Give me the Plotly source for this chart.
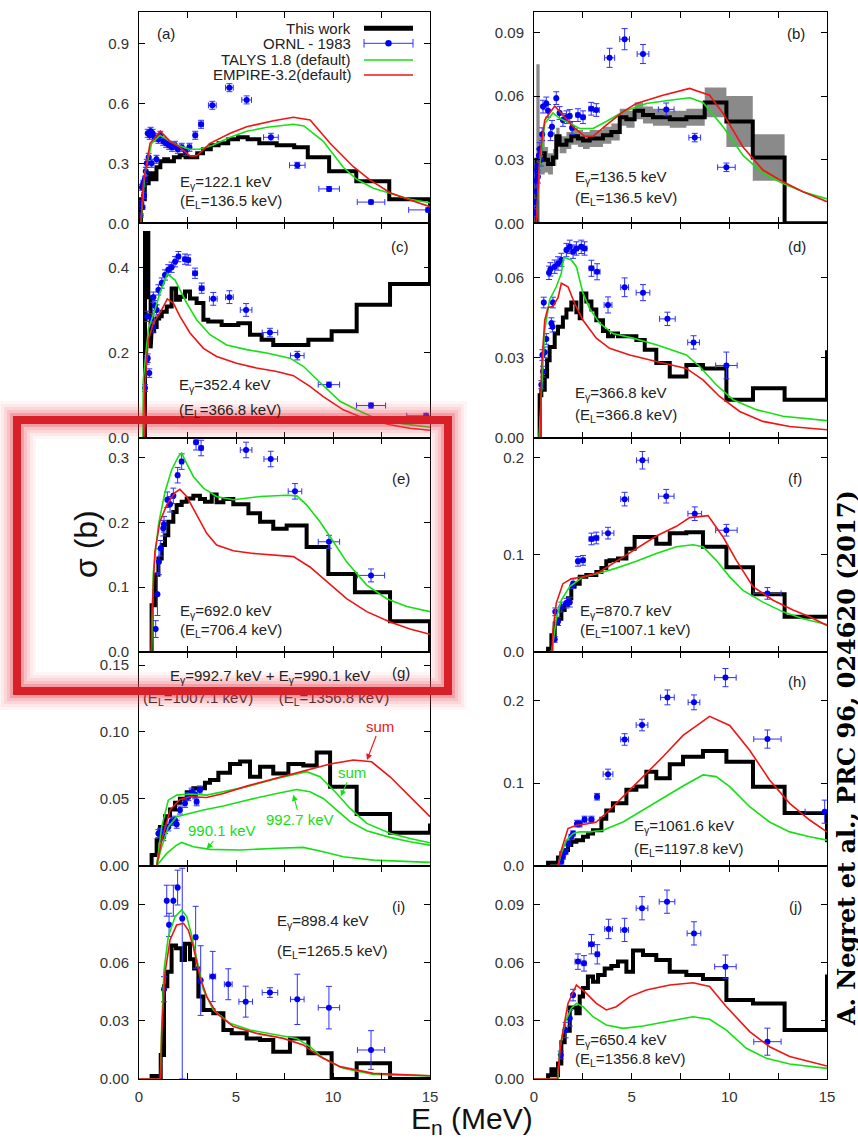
import plotly.graph_objects as go

W, H = 858, 1140

# ------------------------------------------------------------------ DATA
X_TICKS = [0, 5, 10, 15]
X_LABELS = ["0", "5", "10", "15"]
X_MINOR = [2.5, 7.5, 12.5]

Y_RANGES = [1.0565, 0.0996, 0.503, 0.0802, 0.3305, 0.2199, 0.160, 0.2594, 0.1103, 0.1103]
Y_TICKS = [
    [0, 0.3, 0.6, 0.9], [0, 0.03, 0.06, 0.09], [0, 0.2, 0.4], [0, 0.03, 0.06],
    [0, 0.1, 0.2, 0.3], [0, 0.1, 0.2], [0, 0.05, 0.10, 0.15], [0, 0.1, 0.2],
    [0, 0.03, 0.06, 0.09], [0, 0.03, 0.06, 0.09],
]
Y_LABELS = [
    ["0.0", "0.3", "0.6", "0.9"], ["0.00", "0.03", "0.06", "0.09"], ["0.0", "0.2", "0.4"],
    ["0.00", "0.03", "0.06"], ["0.0", "0.1", "0.2", "0.3"], ["0.0", "0.1", "0.2"],
    ["0.00", "0.05", "0.10", "0.15"], ["0.0", "0.1", "0.2"],
    ["0.00", "0.03", "0.06", "0.09"], ["0.00", "0.03", "0.06", "0.09"],
]

# ---- panel (a)
a_edges = [0.1,0.3,0.5,0.7,0.9,1.1,1.3,1.5,1.8,2.1,2.4,2.7,3.0,3.3,3.7,4.1,4.6,5.1,5.6,6.2,7.1,8.0,8.7,9.8,11.2,12.9,15.0,15.5]
a_hist = [0.12,0.20,0.25,0.22,0.28,0.31,0.32,0.31,0.33,0.34,0.33,0.33,0.35,0.37,0.39,0.40,0.42,0.43,0.42,0.40,0.39,0.38,0.33,0.26,0.21,0.12,0.0]
a_green_x = [0.1,0.3,0.65,1.08,1.6,2.0,2.6,3.1,3.8,4.7,5.55,6.6,7.96,8.5,9.5,10.53,11.22,12.08,12.94,13.97,15.0]
a_green_y = [0.0,0.25,0.40,0.44,0.41,0.39,0.37,0.37,0.39,0.43,0.46,0.48,0.495,0.487,0.41,0.28,0.22,0.175,0.15,0.12,0.103]
a_red_x = [0.1,0.22,0.57,1.1,1.6,2.11,2.63,2.97,3.66,4.7,5.55,6.93,7.96,8.82,9.85,11.05,11.9,12.94,13.97,15.0]
a_red_y = [0.0,0.2,0.40,0.46,0.41,0.38,0.337,0.337,0.40,0.45,0.483,0.513,0.53,0.517,0.40,0.283,0.217,0.153,0.117,0.083]
a_ornl_x = [0.08,0.12,0.15,0.18,0.22,0.26,0.30,0.35,0.40,0.45,0.50,0.55,0.60,0.65,0.70,0.80,0.90,1.00,1.10,1.25,1.40,1.55,1.70,1.85,2.00,2.20,2.40,2.60,2.90,3.20,3.78,4.66,5.55,6.80,8.16,9.80,11.96,14.90]
a_ornl_y = [0.04,0.10,0.18,0.08,0.20,0.14,0.22,0.26,0.30,0.45,0.33,0.44,0.46,0.30,0.45,0.43,0.32,0.42,0.44,0.41,0.40,0.39,0.38,0.39,0.37,0.38,0.36,0.38,0.44,0.495,0.59,0.678,0.617,0.43,0.29,0.172,0.106,0.067]
a_ornl_dx = [0.02,0.02,0.02,0.02,0.02,0.02,0.03,0.03,0.03,0.03,0.04,0.04,0.04,0.04,0.05,0.05,0.05,0.06,0.06,0.06,0.07,0.07,0.08,0.08,0.09,0.1,0.1,0.1,0.1,0.12,0.2,0.2,0.25,0.38,0.4,0.53,0.71,1.0]
a_ornl_dy = [0.01,0.015,0.015,0.01,0.015,0.015,0.015,0.02,0.02,0.02,0.02,0.02,0.02,0.02,0.02,0.02,0.02,0.02,0.02,0.02,0.02,0.02,0.02,0.02,0.02,0.02,0.02,0.02,0.02,0.02,0.02,0.02,0.02,0.02,0.015,0.012,0.01,0.01]

# ---- panel (b)
b_edges = [0.12,0.29,0.55,0.72,0.97,1.14,1.31,1.66,1.91,2.25,2.51,2.85,3.53,3.96,4.39,4.73,5.15,5.58,6.09,6.95,7.8,8.74,9.85,11.2,12.83,15.0]
b_hist = [0.030,0.033,0.030,0.028,0.031,0.041,0.037,0.039,0.041,0.040,0.039,0.040,0.0415,0.043,0.050,0.049,0.053,0.051,0.050,0.049,0.050,0.057,0.048,0.031,0.0]
b_err = [0.045,0.010,0.006,0.005,0.004,0.004,0.004,0.004,0.004,0.004,0.004,0.004,0.004,0.004,0.004,0.004,0.004,0.004,0.004,0.004,0.004,0.007,0.012,0.011,0.0]
b_green_x = [0.12,0.29,0.55,0.97,1.31,1.83,2.34,3.02,3.7,4.56,5.75,6.95,7.97,8.65,9.68,10.7,11.72,12.75,13.77,15.0]
b_green_y = [0.0,0.027,0.047,0.052,0.0495,0.047,0.0447,0.0447,0.048,0.0526,0.0565,0.058,0.0592,0.057,0.0455,0.032,0.0236,0.0188,0.0149,0.0115]
b_red_x = [0.12,0.29,0.55,1.06,1.48,2.0,2.59,3.02,3.7,4.56,5.24,6.6,7.97,8.99,9.68,10.7,11.72,12.75,13.77,15.0]
b_red_y = [0.0,0.031,0.0487,0.0553,0.051,0.0455,0.041,0.041,0.0463,0.0526,0.0565,0.0604,0.0636,0.0604,0.0518,0.036,0.0251,0.0196,0.0149,0.0102]
b_ornl_x = [0.05,0.08,0.10,0.12,0.15,0.18,0.20,0.25,0.29,0.35,0.42,0.46,0.63,0.72,0.85,0.92,1.14,1.31,1.48,1.66,1.83,1.95,2.25,2.51,2.93,3.19,3.87,4.64,5.58,6.77,8.23,9.85]
b_ornl_y = [0.005,0.010,0.015,0.020,0.025,0.027,0.022,0.032,0.035,0.030,0.042,0.055,0.0565,0.053,0.042,0.0455,0.059,0.052,0.0487,0.050,0.0506,0.045,0.051,0.050,0.054,0.0534,0.078,0.0868,0.0798,0.0537,0.0404,0.0264]
b_ornl_dx = [0.02,0.02,0.02,0.02,0.02,0.02,0.02,0.03,0.03,0.03,0.03,0.03,0.04,0.04,0.05,0.05,0.05,0.06,0.06,0.07,0.07,0.08,0.1,0.1,0.12,0.15,0.26,0.25,0.3,0.4,0.3,0.45]
b_ornl_dy = [0.002,0.002,0.003,0.003,0.003,0.003,0.003,0.003,0.003,0.003,0.003,0.003,0.003,0.003,0.003,0.003,0.003,0.003,0.003,0.003,0.003,0.003,0.003,0.003,0.003,0.003,0.0045,0.005,0.0045,0.003,0.002,0.002]

# ---- panel (c)
c_edges = [0.31,0.48,0.60,0.65,0.78,0.91,1.04,1.17,1.43,1.68,1.91,2.11,2.37,2.63,2.97,3.32,3.57,4.26,5.12,5.72,6.32,6.92,8.73,9.93,11.22,12.94,15.0,15.5]
c_hist = [0.48,0.33,0.21,0.25,0.26,0.28,0.285,0.296,0.308,0.35,0.324,0.331,0.343,0.327,0.316,0.277,0.273,0.265,0.269,0.242,0.23,0.218,0.23,0.25,0.312,0.361,0.6]
c_green_x = [0.0,0.2,0.22,0.48,0.82,1.08,1.46,1.86,2.46,2.97,3.66,4.52,5.55,6.58,7.78,8.47,9.33,10.36,11.22,12.25,13.63,15.0]
c_green_y = [0.0,0.0,0.136,0.255,0.30,0.34,0.384,0.37,0.316,0.277,0.242,0.218,0.207,0.199,0.187,0.168,0.13,0.086,0.066,0.045,0.033,0.025]
c_red_x = [0.0,0.27,0.3,0.48,0.74,0.99,1.17,1.46,1.77,2.11,2.63,3.32,4.0,5.03,6.06,7.1,7.96,8.81,9.5,10.53,11.56,12.94,13.97,15.0]
c_red_y = [0.0,0.0,0.12,0.23,0.269,0.288,0.30,0.326,0.316,0.285,0.246,0.21,0.191,0.175,0.164,0.156,0.146,0.121,0.097,0.066,0.047,0.031,0.023,0.018]
c_ornl_x = [0.31,0.40,0.53,0.45,0.43,0.65,0.74,0.74,0.82,0.91,1.00,1.17,1.34,1.51,1.68,1.86,2.03,2.37,2.54,2.89,3.23,3.83,4.66,5.52,6.75,8.16,9.79,11.96,14.8]
c_ornl_y = [0.117,0.183,0.152,0.187,0.285,0.28,0.33,0.26,0.31,0.30,0.347,0.363,0.382,0.394,0.40,0.413,0.425,0.419,0.417,0.386,0.351,0.326,0.33,0.30,0.247,0.193,0.125,0.076,0.052]
c_ornl_dx = [0.02,0.02,0.02,0.02,0.02,0.03,0.03,0.03,0.03,0.04,0.04,0.05,0.05,0.06,0.06,0.07,0.08,0.1,0.1,0.12,0.12,0.2,0.2,0.3,0.4,0.35,0.55,0.75,1.0]
c_ornl_dy = [0.008,0.01,0.01,0.01,0.012,0.012,0.012,0.012,0.012,0.012,0.012,0.012,0.012,0.012,0.012,0.012,0.012,0.012,0.012,0.012,0.012,0.015,0.015,0.015,0.01,0.01,0.006,0.006,0.006]

# ---- panel (d)
d_edges = [0.29,0.375,0.55,0.67,0.80,1.06,1.23,1.48,1.66,1.91,2.17,2.34,2.42,2.68,2.94,3.19,3.53,3.79,4.04,4.30,5.24,5.67,6.26,6.95,7.80,8.65,9.85,11.21,12.83,15.0,15.5]
d_hist = [0.016,0.018,0.023,0.029,0.034,0.039,0.0416,0.045,0.048,0.0506,0.047,0.0447,0.054,0.051,0.048,0.044,0.040,0.038,0.039,0.038,0.0366,0.033,0.028,0.023,0.0273,0.026,0.0143,0.0186,0.0143,0.032]
d_green_x = [0.0,0.26,0.38,0.55,0.80,1.14,1.40,1.52,1.91,2.17,2.51,2.85,3.36,4.04,5.07,6.26,7.80,8.48,9.33,10.19,11.38,12.75,15.0]
d_green_y = [0.0,0.0,0.0168,0.0404,0.0516,0.0565,0.0615,0.0675,0.0665,0.064,0.054,0.0484,0.0429,0.039,0.0373,0.0348,0.031,0.0267,0.0199,0.0143,0.0106,0.0081,0.0065]
d_red_x = [0.0,0.33,0.38,0.55,0.72,0.97,1.23,1.40,1.74,2.08,2.51,3.19,3.87,4.90,6.26,7.80,8.65,9.50,10.53,11.72,13.09,15.0]
d_red_y = [0.0,0.0,0.0255,0.044,0.0488,0.0491,0.0524,0.0578,0.0565,0.0503,0.044,0.0373,0.0335,0.031,0.0286,0.026,0.0217,0.0155,0.0099,0.0062,0.0043,0.0031]
d_ornl_x = [0.375,0.46,0.43,0.55,0.63,0.50,0.97,0.89,0.95,0.77,0.84,1.06,1.23,1.40,1.66,1.83,2.00,2.17,2.42,2.59,2.94,3.23,3.79,4.64,5.58,6.83,8.17,9.85]
d_ornl_y = [0.0199,0.0248,0.031,0.032,0.037,0.0506,0.0506,0.0429,0.0416,0.0617,0.063,0.064,0.0652,0.0665,0.0702,0.0714,0.0696,0.0708,0.0714,0.0708,0.0634,0.0621,0.0497,0.0563,0.0543,0.0445,0.0357,0.0271]
d_ornl_dx = [0.02,0.02,0.02,0.03,0.03,0.03,0.04,0.04,0.04,0.03,0.04,0.05,0.05,0.06,0.07,0.08,0.09,0.1,0.1,0.12,0.12,0.15,0.2,0.2,0.35,0.4,0.3,0.55]
d_ornl_dy = [0.0015,0.002,0.002,0.002,0.002,0.002,0.002,0.002,0.002,0.0025,0.0025,0.0025,0.0025,0.0025,0.0025,0.0025,0.0025,0.0025,0.0025,0.0025,0.003,0.003,0.003,0.0035,0.003,0.0025,0.0025,0.005]

# ---- panel (e)
e_edges = [0.65,0.82,1.0,1.17,1.34,1.51,1.77,1.94,2.2,2.46,2.8,3.14,3.4,3.75,4.0,4.35,4.86,5.64,6.24,6.92,7.61,8.64,9.76,11.13,12.94,15.0,15.5]
e_hist = [0.072,0.119,0.144,0.165,0.18,0.201,0.216,0.227,0.232,0.237,0.241,0.236,0.232,0.243,0.231,0.236,0.228,0.214,0.201,0.19,0.195,0.162,0.12,0.092,0.047,0.0]
e_green_x = [0.0,0.65,0.74,1.0,1.34,1.68,2.03,2.2,2.46,2.8,3.32,4.0,4.86,6.24,7.61,8.13,8.64,9.33,10.02,10.7,11.74,12.77,13.8,15.0]
e_green_y = [0.0,0.0,0.124,0.196,0.247,0.281,0.302,0.307,0.291,0.271,0.253,0.24,0.235,0.24,0.242,0.241,0.227,0.201,0.17,0.139,0.103,0.082,0.07,0.062]
e_red_x = [0.0,0.63,0.65,0.82,1.08,1.43,1.86,2.11,2.46,2.97,3.49,4.0,4.86,5.89,7.1,7.96,8.81,9.67,10.7,11.74,12.94,13.97,15.0]
e_red_y = [0.0,0.0,0.046,0.155,0.201,0.227,0.246,0.251,0.24,0.211,0.183,0.165,0.156,0.152,0.149,0.147,0.131,0.108,0.082,0.062,0.046,0.035,0.027]
e_ornl_x = [0.86,0.95,1.03,1.12,1.25,1.29,1.46,1.60,1.77,1.99,2.20,2.94,3.20,5.52,6.79,8.04,9.79,11.96]
e_ornl_y = [0.035,0.089,0.139,0.160,0.191,0.197,0.235,0.228,0.241,0.273,0.294,0.324,0.315,0.312,0.298,0.248,0.170,0.118]
e_ornl_dx = [0.02,0.02,0.03,0.03,0.03,0.03,0.05,0.05,0.06,0.07,0.08,0.1,0.1,0.3,0.35,0.35,0.55,0.7]
e_ornl_dy = [0.013,0.033,0.02,0.012,0.012,0.012,0.012,0.012,0.012,0.012,0.012,0.012,0.012,0.012,0.012,0.012,0.01,0.01]

# ---- panel (f)
f_edges = [0.72,0.89,1.06,1.23,1.40,1.57,1.74,1.91,2.08,2.34,2.68,3.19,3.45,3.70,3.87,4.30,4.73,5.15,6.26,6.95,7.80,8.65,9.85,11.21,12.83,15.0]
f_hist = [0.003,0.017,0.029,0.034,0.043,0.048,0.055,0.067,0.070,0.077,0.079,0.082,0.086,0.093,0.094,0.096,0.106,0.118,0.111,0.122,0.123,0.108,0.087,0.059,0.036]
f_green_x = [0.0,0.89,0.97,1.14,1.40,1.83,2.51,3.36,4.21,5.24,6.26,7.29,8.14,8.65,9.33,10.02,10.70,11.72,12.75,13.77,15.0]
f_green_y = [0.0,0.0,0.0086,0.034,0.053,0.067,0.077,0.081,0.086,0.093,0.101,0.108,0.110,0.108,0.094,0.077,0.063,0.051,0.041,0.034,0.028]
f_red_x = [0.0,0.92,0.97,1.14,1.48,1.91,2.51,3.36,4.21,5.24,6.26,7.29,7.97,8.91,9.68,10.36,11.21,12.24,13.26,14.11,15.0]
f_red_y = [0.0,0.0,0.022,0.050,0.070,0.075,0.077,0.082,0.093,0.106,0.119,0.129,0.138,0.140,0.118,0.094,0.067,0.053,0.043,0.036,0.027]
f_ornl_x = [1.06,1.09,1.23,1.40,1.66,1.83,2.00,2.25,2.51,2.94,3.19,3.79,4.64,5.55,6.77,8.23,9.85,11.95]
f_ornl_y = [0.0127,0.041,0.031,0.046,0.050,0.051,0.070,0.093,0.094,0.116,0.117,0.122,0.157,0.197,0.160,0.142,0.125,0.060]
f_ornl_dx = [0.03,0.03,0.04,0.05,0.06,0.06,0.07,0.08,0.1,0.12,0.12,0.3,0.2,0.3,0.4,0.35,0.55,0.7]
f_ornl_dy = [0.003,0.004,0.004,0.005,0.005,0.005,0.005,0.005,0.005,0.006,0.006,0.006,0.007,0.009,0.007,0.007,0.006,0.006]

# ---- panel (g)
g_edges = [0.65,0.91,1.08,1.34,1.60,1.86,2.11,2.46,2.80,3.40,3.66,4.09,4.69,5.21,5.72,6.24,6.92,7.70,8.47,9.16,9.85,11.22,12.94,15.0,15.5]
g_hist = [0.008,0.019,0.029,0.037,0.042,0.047,0.050,0.055,0.058,0.062,0.064,0.0695,0.076,0.078,0.0665,0.074,0.069,0.076,0.075,0.0847,0.059,0.0386,0.0247,0.030]
g_talys990_x = [0.0,0.91,1.43,1.94,2.2,2.8,3.66,5.21,7.1,8.47,9.5,10.53,12.08,15.0]
g_talys990_y = [0.0,0.0,0.0092,0.0154,0.0174,0.0142,0.0122,0.0117,0.013,0.0137,0.0105,0.0067,0.0042,0.0025]
g_talys992_x = [0.0,0.91,1.17,1.51,1.94,2.46,3.32,4.35,5.55,7.1,8.13,8.81,9.5,10.19,10.88,11.74,12.94,13.97,15.0]
g_talys992_y = [0.0,0.0,0.0142,0.029,0.0366,0.0386,0.0416,0.0446,0.049,0.054,0.057,0.0553,0.0503,0.0416,0.0329,0.0262,0.0212,0.0179,0.0154]
g_green_x = [0.0,0.91,1.17,1.51,1.94,2.63,3.49,4.35,5.55,7.1,8.64,9.33,10.19,10.88,11.74,12.94,13.97,15.0]
g_green_y = [0.0,0.0,0.029,0.049,0.0528,0.0536,0.0528,0.0553,0.059,0.0653,0.0703,0.0665,0.054,0.0428,0.0316,0.0242,0.0204,0.0172]
g_red_x = [0.0,0.91,1.17,1.6,2.11,2.63,3.49,4.35,5.55,7.1,8.64,9.85,11.05,11.99,12.94,13.97,15.0]
g_red_y = [0.0,0.0,0.019,0.0416,0.0496,0.0516,0.051,0.054,0.0595,0.0653,0.0715,0.076,0.079,0.0777,0.0665,0.0516,0.0366]
g_ornl_x = [1.00,1.08,1.25,1.34,1.51,1.68,1.86,1.94,2.11,2.37,2.54,2.71,2.89,2.97,3.14]
g_ornl_y = [0.024,0.025,0.0217,0.027,0.029,0.033,0.034,0.031,0.0416,0.0466,0.0516,0.055,0.053,0.0478,0.0566]
g_ornl_dx = [0.03,0.03,0.04,0.04,0.05,0.05,0.06,0.06,0.07,0.08,0.08,0.1,0.1,0.1,0.1]
g_ornl_dy = [0.003,0.003,0.003,0.003,0.003,0.003,0.003,0.003,0.003,0.003,0.003,0.003,0.003,0.003,0.003]

# ---- panel (h)
h_edges = [0.72,1.23,1.40,1.57,1.74,1.91,2.17,2.51,2.76,3.02,3.45,3.70,4.04,4.73,5.24,5.75,6.26,6.95,7.63,8.65,9.85,11.21,12.83,15.0,15.5]
h_hist = [0.0036,0.010,0.015,0.019,0.025,0.029,0.031,0.035,0.039,0.043,0.057,0.067,0.0756,0.092,0.096,0.114,0.106,0.123,0.132,0.139,0.126,0.0958,0.064,0.031]
h_green_x = [0.0,1.23,1.40,1.66,2.00,2.34,2.85,3.53,4.56,5.58,6.60,7.63,8.65,9.33,10.02,11.04,12.06,13.09,14.11,15.0]
h_green_y = [0.0,0.0,0.015,0.031,0.039,0.041,0.041,0.043,0.053,0.0675,0.0816,0.0966,0.110,0.108,0.0958,0.0715,0.053,0.041,0.035,0.031]
h_red_x = [0.0,1.23,1.40,1.74,2.17,2.68,3.19,3.87,4.73,5.58,6.60,7.63,8.99,10.02,11.04,12.06,13.09,14.11,15.0]
h_red_y = [0.0,0.0,0.019,0.045,0.049,0.0505,0.053,0.0675,0.0877,0.108,0.132,0.158,0.181,0.170,0.140,0.104,0.0756,0.0554,0.041]
h_ornl_x = [1.40,1.48,1.62,1.74,1.91,2.00,2.20,2.34,2.59,2.94,3.23,3.79,4.64,5.53,6.83,8.19,9.80,11.95,14.88]
h_ornl_y = [0.005,0.011,0.017,0.027,0.035,0.039,0.051,0.051,0.056,0.056,0.0836,0.111,0.153,0.1705,0.204,0.198,0.228,0.1535,0.0655]
h_ornl_dx = [0.03,0.03,0.04,0.05,0.05,0.06,0.07,0.08,0.1,0.12,0.1,0.25,0.2,0.3,0.35,0.3,0.55,0.7,1.0]
h_ornl_dy = [0.003,0.003,0.003,0.003,0.003,0.003,0.004,0.004,0.004,0.004,0.004,0.006,0.007,0.007,0.009,0.009,0.011,0.011,0.014]

# ---- panel (i)
i_edges = [0.65,0.91,1.12,1.29,1.46,1.68,1.91,2.20,2.37,2.63,2.84,3.06,3.32,3.83,4.35,4.78,5.55,6.24,6.92,7.78,8.73,9.93,11.22,12.94,15.0]
i_hist = [0.0016,0.0,0.0124,0.048,0.0555,0.069,0.0676,0.0616,0.070,0.0619,0.0572,0.0426,0.0357,0.034,0.0253,0.0236,0.021,0.0202,0.0141,0.021,0.0133,0.0,0.0081,0.0]
i_green_x = [0.0,1.10,1.17,1.29,1.51,1.86,2.20,2.46,2.71,2.97,3.32,3.83,4.69,5.72,7.10,8.13,8.81,9.50,10.53,12.08,15.0]
i_green_y = [0.0,0.0,0.027,0.0564,0.0736,0.084,0.0874,0.084,0.0745,0.0616,0.046,0.0357,0.0288,0.0253,0.0228,0.021,0.0167,0.0107,0.0055,0.0024,0.0016]
i_red_x = [0.0,1.12,1.17,1.34,1.60,1.94,2.29,2.54,2.80,3.14,3.49,4.00,4.86,6.07,7.44,8.47,9.33,10.36,12.08,15.0]
i_red_y = [0.0,0.0,0.0236,0.0547,0.0719,0.0797,0.0805,0.077,0.0684,0.0529,0.0426,0.034,0.0271,0.0236,0.021,0.0176,0.0116,0.0064,0.0029,0.0017]
i_ornl_x = [1.29,1.43,1.55,1.77,1.99,2.23,2.92,3.18,3.80,4.60,5.50,6.75,8.16,9.79,11.96]
i_ornl_y = [0.0464,0.0922,0.0797,0.0922,0.099,0.083,0.0733,0.0509,0.053,0.049,0.040,0.0447,0.0412,0.0369,0.015]
i_ornl_dx = [0.03,0.03,0.03,0.04,0.05,0.06,0.08,0.08,0.15,0.2,0.35,0.4,0.35,0.55,0.7]
i_ornl_dy = [0.0065,0.008,0.006,0.008,0.009,0.026,0.016,0.018,0.013,0.008,0.008,0.0025,0.013,0.011,0.01]
i_ornl_dym = [0.0065,0.008,0.006,0.008,0.009,0.083,0.016,0.018,0.013,0.008,0.008,0.0025,0.013,0.011,0.01]

# ---- panel (j)
j_edges = [0.72,0.89,1.06,1.23,1.40,1.57,1.83,2.17,2.34,2.51,2.76,3.02,3.28,3.62,3.96,4.30,4.73,5.07,5.58,6.26,6.95,7.80,8.65,9.85,11.21,12.83,15.0,15.5]
j_hist = [0.002,0.005,0.002,0.008,0.019,0.025,0.037,0.034,0.0426,0.047,0.053,0.0503,0.0538,0.0572,0.0584,0.0607,0.0555,0.0664,0.0641,0.0616,0.0555,0.0538,0.0517,0.0409,0.0391,0.0253,0.053]
j_green_x = [0.0,1.23,1.31,1.57,1.91,2.17,2.51,3.02,3.70,4.56,5.58,6.77,8.14,8.99,9.85,10.87,11.89,13.09,15.0]
j_green_y = [0.0,0.0,0.015,0.0288,0.0366,0.0391,0.0374,0.0322,0.0279,0.0262,0.0274,0.0297,0.0322,0.0309,0.0253,0.0159,0.0107,0.0078,0.0055]
j_red_x = [0.0,1.20,1.23,1.40,1.74,2.17,2.59,3.19,3.70,4.21,4.90,5.75,6.95,8.14,8.99,9.85,11.04,12.06,13.09,15.0]
j_red_y = [0.0,0.0,0.005,0.020,0.0391,0.0486,0.0452,0.0391,0.0357,0.0374,0.0426,0.046,0.0486,0.0498,0.0478,0.0374,0.0245,0.0167,0.0116,0.0067]
j_ornl_x = [1.37,1.62,1.83,2.00,2.25,2.56,2.94,3.24,3.82,4.64,5.53,6.81,8.19,9.80,11.95]
j_ornl_y = [0.0124,0.0253,0.0314,0.0434,0.0607,0.0598,0.0697,0.0645,0.0776,0.0771,0.0883,0.0917,0.0753,0.0581,0.0193]
j_ornl_dx = [0.03,0.04,0.05,0.06,0.15,0.1,0.15,0.1,0.2,0.2,0.3,0.4,0.35,0.55,0.7]
j_ornl_dy = [0.002,0.004,0.004,0.003,0.004,0.004,0.005,0.005,0.005,0.006,0.006,0.006,0.006,0.006,0.007]

PANELS = [
    dict(edges=a_edges, hist=a_hist, gx=a_green_x, gy=a_green_y, rx=a_red_x, ry=a_red_y,
         ox=a_ornl_x, oy=a_ornl_y, odx=a_ornl_dx, ody=a_ornl_dy),
    dict(edges=b_edges, hist=b_hist, gx=b_green_x, gy=b_green_y, rx=b_red_x, ry=b_red_y,
         ox=b_ornl_x, oy=b_ornl_y, odx=b_ornl_dx, ody=b_ornl_dy, band=b_err),
    dict(edges=c_edges, hist=c_hist, gx=c_green_x, gy=c_green_y, rx=c_red_x, ry=c_red_y,
         ox=c_ornl_x, oy=c_ornl_y, odx=c_ornl_dx, ody=c_ornl_dy),
    dict(edges=d_edges, hist=d_hist, gx=d_green_x, gy=d_green_y, rx=d_red_x, ry=d_red_y,
         ox=d_ornl_x, oy=d_ornl_y, odx=d_ornl_dx, ody=d_ornl_dy),
    dict(edges=e_edges, hist=e_hist, gx=e_green_x, gy=e_green_y, rx=e_red_x, ry=e_red_y,
         ox=e_ornl_x, oy=e_ornl_y, odx=e_ornl_dx, ody=e_ornl_dy),
    dict(edges=f_edges, hist=f_hist, gx=f_green_x, gy=f_green_y, rx=f_red_x, ry=f_red_y,
         ox=f_ornl_x, oy=f_ornl_y, odx=f_ornl_dx, ody=f_ornl_dy),
    dict(edges=g_edges, hist=g_hist, gx=g_green_x, gy=g_green_y, rx=g_red_x, ry=g_red_y,
         ox=g_ornl_x, oy=g_ornl_y, odx=g_ornl_dx, ody=g_ornl_dy,
         extra_green=[(g_talys990_x, g_talys990_y), (g_talys992_x, g_talys992_y)]),
    dict(edges=h_edges, hist=h_hist, gx=h_green_x, gy=h_green_y, rx=h_red_x, ry=h_red_y,
         ox=h_ornl_x, oy=h_ornl_y, odx=h_ornl_dx, ody=h_ornl_dy),
    dict(edges=i_edges, hist=i_hist, gx=i_green_x, gy=i_green_y, rx=i_red_x, ry=i_red_y,
         ox=i_ornl_x, oy=i_ornl_y, odx=i_ornl_dx, ody=i_ornl_dy, odym=i_ornl_dym),
    dict(edges=j_edges, hist=j_hist, gx=j_green_x, gy=j_green_y, rx=j_red_x, ry=j_red_y,
         ox=j_ornl_x, oy=j_ornl_y, odx=j_ornl_dx, ody=j_ornl_dy),
]

for n, P in enumerate(PANELS):
    assert len(P["edges"]) == len(P["hist"]) + 1, ("edges", n)
    assert len(P["gx"]) == len(P["gy"]), ("green", n)
    assert len(P["rx"]) == len(P["ry"]), ("red", n)
    assert len(P["ox"]) == len(P["oy"]) == len(P["odx"]) == len(P["ody"]), ("ornl", n)
    if "band" in P:
        assert len(P["band"]) == len(P["hist"]), ("band", n)
    for ex, ey in P.get("extra_green", []):
        assert len(ex) == len(ey), ("extra", n)

# ------------------------------------------------------------------ STYLE / LAYOUT
ROWS = [(12, 223.3), (223.3, 438), (438, 651.7), (651.7, 865.7), (865.7, 1079)]
COLS = [(139, 430), (534, 827)]
FONT = "Liberation Sans, Arial, Helvetica, sans-serif"
BLACK = "#000000"
GREEN = "#14e014"
RED = "#f01414"
BLUE = "#0000f5"
EBLUE = "#3030ff"
TXT = "#222222"


def px(x):
    return x / W


def py(y):
    return 1 - y / H


def step_xy(edges, vals):
    xs, ys = [edges[0]], [0.0]
    for k, v in enumerate(vals):
        xs += [edges[k], edges[k + 1]]
        ys += [v, v]
    return xs, ys


fig = go.Figure()
layout = dict(
    width=W, height=H, margin=dict(l=0, r=0, t=0, b=0),
    paper_bgcolor="white", plot_bgcolor="white", showlegend=False,
    template="none", font=dict(family=FONT, color=TXT, size=15),
)

for k, P in enumerate(PANELS):
    row, col = divmod(k, 2)
    sfx = "" if k == 0 else str(k + 1)
    xr, yr = "x" + sfx, "y" + sfx
    common = dict(showline=True, linecolor="black", linewidth=1, mirror="ticks",
                  ticks="inside", ticklen=6, tickwidth=1, tickcolor="black",
                  showgrid=False, zeroline=False, automargin=False,
                  tickfont=dict(family=FONT, size=15, color="#333333"))
    layout["xaxis" + sfx] = dict(
        common, domain=[px(COLS[col][0]), px(COLS[col][1])], anchor=yr, range=[0, 15],
        tickmode="array", tickvals=X_TICKS, ticktext=X_LABELS,
        showticklabels=(row == 4), ticklabelstandoff=4,
        minor=dict(tickmode="array", tickvals=X_MINOR, ticks="inside", ticklen=6,
                   tickwidth=1, tickcolor="black", showgrid=False),
    )
    layout["yaxis" + sfx] = dict(
        common, domain=[py(ROWS[row][1]), py(ROWS[row][0])], anchor=xr,
        range=[0, Y_RANGES[k]], tickmode="array", tickvals=Y_TICKS[k], ticktext=Y_LABELS[k],
        ticklabelstandoff=6,
    )

    if "band" in P:
        up = [h + e for h, e in zip(P["hist"], P["band"])]
        lo = [max(h - e, 0.0) for h, e in zip(P["hist"], P["band"])]
        ux, uy = step_xy(P["edges"], up)
        lx, ly = step_xy(P["edges"], lo)
        fig.add_trace(go.Scatter(x=ux[1:], y=uy[1:], mode="lines", line=dict(width=0, color="#8c8c8c"),
                                 xaxis=xr, yaxis=yr, hoverinfo="skip"))
        fig.add_trace(go.Scatter(x=lx[1:], y=ly[1:], mode="lines", line=dict(width=0, color="#8c8c8c"),
                                 fill="tonexty", fillcolor="rgba(125,125,125,0.9)",
                                 xaxis=xr, yaxis=yr, hoverinfo="skip"))

    hx, hy = step_xy(P["edges"], P["hist"])
    fig.add_trace(go.Scatter(x=hx, y=hy, mode="lines", line=dict(color=BLACK, width=4),
                             xaxis=xr, yaxis=yr, name="This work"))

    ey = dict(type="data", array=P["ody"], color=EBLUE, thickness=1, width=3)
    if "odym" in P:
        ey["symmetric"] = False
        ey["arrayminus"] = P["odym"]
    fig.add_trace(go.Scatter(
        x=P["ox"], y=P["oy"], mode="markers",
        marker=dict(color=BLUE, size=6, line=dict(width=0)),
        error_x=dict(type="data", array=P["odx"], color=EBLUE, thickness=1, width=3),
        error_y=ey, xaxis=xr, yaxis=yr, name="ORNL - 1983"))

    for ex, eyv in P.get("extra_green", []):
        fig.add_trace(go.Scatter(x=ex, y=eyv, mode="lines", line=dict(color=GREEN, width=1.6),
                                 xaxis=xr, yaxis=yr))
    fig.add_trace(go.Scatter(x=P["gx"], y=P["gy"], mode="lines", line=dict(color=GREEN, width=1.6),
                             xaxis=xr, yaxis=yr, name="TALYS 1.8 (default)"))
    fig.add_trace(go.Scatter(x=P["rx"], y=P["ry"], mode="lines", line=dict(color=RED, width=1.6),
                             xaxis=xr, yaxis=yr, name="EMPIRE-3.2(default)"))

# second label line of panel (g), drawn as a text trace so the red frame covers it
fig.add_trace(go.Scatter(
    x=[0.2, 7.2], y=[0.1246, 0.1246], mode="text",
    text=["(E<sub>L</sub>=1007.1 keV)", "(E<sub>L</sub>=1356.8 keV)"],
    textposition="middle right", textfont=dict(family=FONT, size=15, color=TXT),
    xaxis="x7", yaxis="y7", cliponaxis=False, hoverinfo="skip"))

fig.update_layout(**layout)

# ------------------------------------------------------------------ TEXT
ann = []


def text(x, y, s, xanchor="left", size=15, color=TXT, **kw):
    ann.append(dict(x=px(x), y=py(y), xref="paper", yref="paper", text=s, showarrow=False,
                    xanchor=xanchor, yanchor="middle", font=dict(family=FONT, size=size, color=color), **kw))


PANEL_TAGS = [("(a)", 166.3, 33.5), ("(b)", 795.7, 33.3), ("(c)", 400, 246.7), ("(d)", 796.7, 246.7),
              ("(e)", 401, 478.3), ("(f)", 795, 478.3), ("(g)", 400.8, 672.7), ("(h)", 797, 681.7),
              ("(i)", 398, 906.7), ("(j)", 795, 906.7)]
for s, x, y in PANEL_TAGS:
    text(x, y, s, xanchor="center")

LEVEL_TEXT = [
    ("122.1", "136.5", 178.3, 182.7, 201.7),
    ("136.5", "136.5", 573.3, 177.3, 198.3),
    ("352.4", "366.8", 177.3, 385.0, 410.0),
    ("366.8", "366.8", 573.3, 393.3, 415.0),
    ("692.0", "706.4", 177.7, 611.0, 630.0),
    ("870.7", "1007.1", 578.3, 611.7, 630.0),
    ("1061.6", "1197.8", 631.7, 826.7, 849.0),
    ("898.4", "1265.5", 275.0, 921.7, 951.7),
    ("650.4", "1356.8", 573.3, 1040.0, 1059.3),
]
for eg, el, x, y1, y2 in LEVEL_TEXT:
    text(x, y1, "E<sub>γ</sub>=%s keV" % eg)
    text(x, y2, "(E<sub>L</sub>=%s keV)" % el)

text(269.7, 676, "E<sub>γ</sub>=992.7 keV + E<sub>γ</sub>=990.1 keV", xanchor="center")

LEGEND = [("This work", 28.3), ("ORNL - 1983", 43.3), ("TALYS 1.8 (default)", 60.0), ("EMPIRE-3.2(default)", 75.0)]
for s, y in LEGEND:
    text(353.3, y, s, xanchor="right")

ARROWS = [("sum", RED, 11.75, 0.079, 13, -34), ("sum", GREEN, 10.4, 0.052, 11, -24),
          ("992.7 keV", GREEN, 7.95, 0.053, 7, 25), ("990.1 keV", GREEN, 3.49, 0.0125, 15, -18)]
for s, c, x, y, ax, ay in ARROWS:
    ann.append(dict(x=x, y=y, xref="x7", yref="y7", text=s, showarrow=True, ax=ax, ay=ay,
                    arrowhead=2, arrowsize=1.1, arrowwidth=1.1, arrowcolor=c,
                    font=dict(family=FONT, size=15, color=c)))

ann.append(dict(x=px(472), y=py(1120), xref="paper", yref="paper", showarrow=False,
                text="E<sub>n</sub> (MeV)", xanchor="center", yanchor="middle",
                font=dict(family=FONT, size=30, color="#111111")))
ann.append(dict(x=px(86), y=py(544), xref="paper", yref="paper", showarrow=False,
                text="σ (b)", textangle=-90, xanchor="center", yanchor="middle",
                font=dict(family=FONT, size=32, color="#111111")))
ann.append(dict(x=px(846), y=py(758), xref="paper", yref="paper", showarrow=False,
                text="<b>A. Negret et al., PRC 96, 024620 (2017)</b>", textangle=-90,
                xanchor="center", yanchor="middle",
                font=dict(family="DejaVu Serif, serif", size=24, color="#000000")))

# ------------------------------------------------------------------ SHAPES
shapes = []
shapes.append(dict(type="line", xref="paper", yref="paper", x0=px(364), x1=px(413), y0=py(28.3), y1=py(28.3),
                   line=dict(color=BLACK, width=5)))
shapes.append(dict(type="line", xref="paper", yref="paper", x0=px(364), x1=px(413), y0=py(43.3), y1=py(43.3),
                   line=dict(color=EBLUE, width=1)))
for xc in (364, 413):
    shapes.append(dict(type="line", xref="paper", yref="paper", x0=px(xc), x1=px(xc), y0=py(39), y1=py(47.6),
                       line=dict(color=EBLUE, width=1)))
shapes.append(dict(type="circle", xref="paper", yref="paper", x0=px(385.3), x1=px(391.7), y0=py(46.5), y1=py(40.1),
                   fillcolor=BLUE, line=dict(width=0)))
shapes.append(dict(type="line", xref="paper", yref="paper", x0=px(364), x1=px(413), y0=py(60), y1=py(60),
                   line=dict(color=GREEN, width=1.6)))
shapes.append(dict(type="line", xref="paper", yref="paper", x0=px(364), x1=px(413), y0=py(75), y1=py(75),
                   line=dict(color=RED, width=1.6)))

# red highlight frame with a soft glow
for wdt, col in [(38, "rgba(240,90,100,0.06)"), (32, "rgba(240,90,100,0.08)"), (26, "rgba(240,80,90,0.11)"),
                 (20, "rgba(235,70,80,0.15)"), (14, "rgba(230,60,70,0.25)"), (8, "#d82028")]:
    shapes.append(dict(type="rect", xref="paper", yref="paper", x0=px(17), x1=px(448), y0=py(691), y1=py(420),
                       line=dict(color=col, width=wdt), fillcolor="rgba(0,0,0,0)", layer="above"))

fig.update_layout(annotations=ann, shapes=shapes)
fig.write_html("out.html")
